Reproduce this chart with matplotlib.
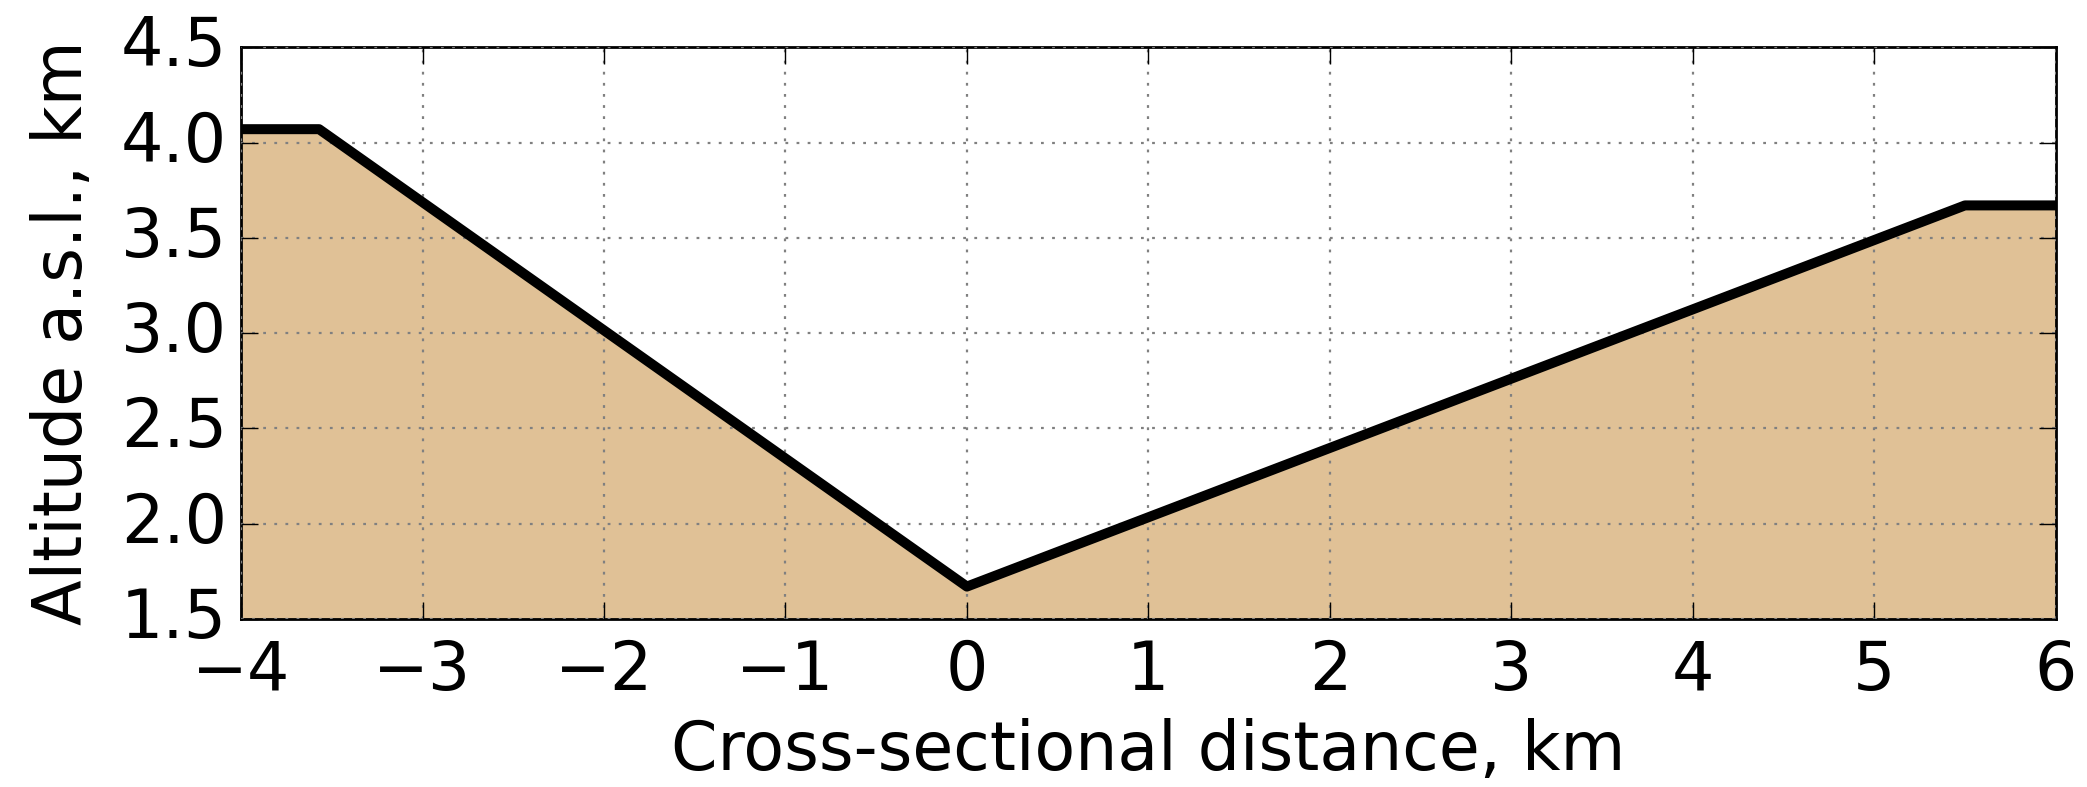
import numpy as np
import matplotlib
matplotlib.use("Agg")
import matplotlib.pyplot as plt

plt.style.use('classic')

# profile vertices
dist_km = [-4.0, -3.57, 0.0, 5.5, 6.0]
alt_km = [4.07, 4.07, 1.67, 3.67, 3.67]

xticks = [-4, -3, -2, -1, 0, 1, 2, 3, 4, 5, 6]
yticks = [1.5, 2.0, 2.5, 3.0, 3.5, 4.0, 4.5]

fig = plt.figure(figsize=(10.435, 3.935), dpi=200, facecolor='white')
ax = fig.add_axes([0.1155, 0.2135, 0.8695, 0.7265])

ax.fill_between(dist_km, alt_km, 1.5, color='#e0c196', lw=0, zorder=1)
ax.plot(dist_km, alt_km, color='k', lw=3.6, zorder=3)

ax.set_xlim(-4, 6)
ax.set_ylim(1.5, 4.5)
ax.set_xticks(xticks)
ax.set_yticks(yticks)
ax.grid(True, color='gray', linestyle=':', lw=0.8)
ax.set_axisbelow(False)
ax.tick_params(labelsize=24, direction='in', length=6, top=True, right=True)
ax.tick_params(axis='x', pad=7)
ax.tick_params(axis='y', pad=5)
ax.set_xlabel('Cross-sectional distance, km', fontsize=24, labelpad=5)
ax.set_ylabel('Altitude a.s.l., km', fontsize=24, labelpad=9)

fig.savefig('out.png', dpi=200, facecolor='white')
